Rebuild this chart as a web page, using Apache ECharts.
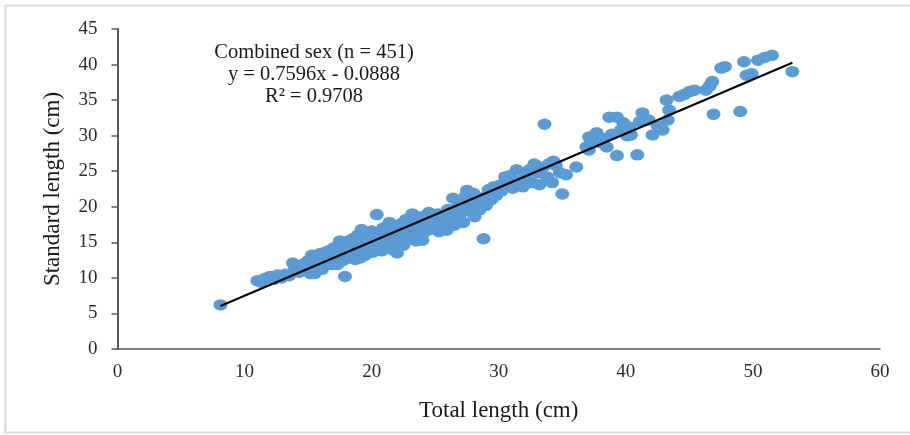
<!DOCTYPE html>
<html>
<head>
<meta charset="utf-8">
<script src="https://cdn.jsdelivr.net/npm/echarts@6/dist/echarts.min.js"></script>
<style>
html,body{margin:0;padding:0;background:#fff;}
#chart{width:910px;height:435px;}
</style>
</head>
<body>
<div id="chart"></div>
<script>
// Total length (cm) / Standard length (cm) pairs
const totalLength = [
 8.1,
 11.0,11.3,11.6,12.0,12.3,12.6,12.9,13.2,13.5,13.8,13.9,14.1,14.3,14.5,14.7,14.8,
 15.0,15.1,15.2,15.3,15.4,15.5,15.6,15.7,15.9,16.0,16.1,16.2,16.3,16.4,16.6,16.7,16.8,16.9,
 17.0,17.1,17.2,17.3,17.4,17.5,17.6,17.7,17.8,17.9,18.0,18.1,18.2,18.3,18.4,18.5,18.6,18.7,18.8,18.9,
 19.0,19.1,19.2,19.3,19.4,19.5,19.6,19.8,19.9,20.0,20.1,20.2,20.4,20.4,20.5,20.7,20.8,20.9,
 21.0,21.1,21.3,21.4,21.5,21.6,21.8,21.9,22.0,22.1,22.3,22.4,22.5,22.7,22.8,22.9,
 23.0,23.2,23.3,23.4,23.5,23.7,23.9,24.0,24.1,24.3,24.5,24.6,24.8,
 25.0,25.2,25.3,25.5,25.7,25.9,26.0,26.2,26.4,26.5,26.7,26.9,
 27.0,27.2,27.4,27.5,27.6,27.8,28.0,28.1,28.3,28.5,28.8,28.9,29.0,29.2,29.4,29.6,29.8,
 30.0,30.2,30.5,30.7,30.9,31.1,31.4,31.6,31.9,32.1,32.4,32.6,32.8,
 33.1,33.2,33.5,33.6,33.8,34.0,34.2,34.3,34.5,34.8,35.0,35.3,36.1,
 36.9,37.1,37.1,37.4,37.7,38.0,38.2,38.5,38.7,38.9,39.3,39.3,39.6,39.8,
 40.1,40.3,40.4,40.9,41.1,41.3,41.8,42.1,42.5,42.9,43.2,43.3,43.4,
 44.2,44.6,45.0,45.4,46.3,46.6,46.8,46.9,47.5,47.8,
 49.0,49.3,49.5,49.9,50.4,50.9,51.5,53.1,
 16.5,17.6,18.6,19.7,20.6,21.2,22.6,23.6,24.4,25.6,26.8,21.7,20.3
];
const standardLength = [
 6.2,
 9.6,9.4,9.9,10.2,9.8,10.4,10.0,10.5,10.3,12.1,11.0,11.6,10.8,11.4,12.0,11.0,
 12.4,11.3,10.6,13.2,12.0,10.6,12.8,11.6,13.4,12.2,11.2,12.9,13.6,11.8,12.5,13.9,13.0,11.9,
 14.2,12.7,13.4,11.9,14.6,15.2,13.1,12.4,14.0,10.2,14.8,13.5,12.8,15.3,14.2,13.2,15.6,12.6,14.6,16.0,
 13.8,12.8,16.8,15.0,14.2,13.2,16.2,15.4,14.4,16.6,13.6,15.8,18.9,14.8,16.2,15.2,13.8,17.0,
 16.0,14.4,15.6,17.8,16.6,14.0,15.2,17.2,13.5,16.4,17.6,15.8,14.6,18.2,16.8,15.4,
 17.4,19.0,16.2,18.0,15.2,17.0,18.6,15.3,16.4,17.8,19.2,16.8,18.2,
 17.4,19.0,16.5,18.6,17.8,16.7,19.6,18.4,21.2,17.4,19.8,18.8,
 20.6,17.8,21.5,22.3,19.4,20.4,21.9,18.6,20.8,19.6,15.5,21.4,20.2,22.4,21.0,22.8,21.6,
 23.0,22.2,24.2,23.2,24.4,22.6,25.2,23.6,22.8,24.4,25.2,23.4,26.0,
 24.8,23.1,25.6,31.6,24.2,26.1,23.4,26.4,25.8,24.8,21.8,24.5,25.6,
 28.4,29.8,28.0,29.4,30.4,29.0,29.6,28.4,32.6,30.2,32.6,27.2,30.8,31.8,
 30.0,31.2,30.1,27.3,32.0,33.2,32.2,30.1,31.4,30.8,35.0,32.2,33.6,
 35.5,35.8,36.2,36.4,36.4,37.0,37.6,33.0,39.5,39.7,
 33.4,40.4,38.5,38.7,40.6,41.0,41.3,39.0,
 13.1,13.9,13.9,15.6,15.6,15.0,16.0,17.2,18.0,18.0,18.9,16.8,14.0
];
// Linear trend line endpoints (y = 0.7596x - 0.0888), read at the ends of the data
const trendX = [8.1, 53.1];
const trendY = [6.06, 40.25];
// Axis ticks
const xTicks = [0, 10, 20, 30, 40, 50, 60];
const yTicks = [0, 5, 10, 15, 20, 25, 30, 35, 40, 45];
// Titles and annotation
const xTitle = 'Total length (cm)';
const yTitle = 'Standard length (cm)';
const annotationLines = ['Combined sex (n = 451)', 'y = 0.7596x - 0.0888', 'R\u00B2 = 0.9708'];

const points = totalLength.map((x, i) => [x, standardLength[i]]);
const trend = trendX.map((x, i) => [x, trendY[i]]);

const FONT = '"Liberation Serif", "Times New Roman", serif';
const chart = echarts.init(document.getElementById('chart'), null, {renderer: 'canvas'});

const graphics = [{
  type: 'rect',
  shape: {x: 5.5, y: 5.5, width: 910, height: 427},
  style: {fill: 'none', stroke: '#d9d9d9', lineWidth: 2},
  silent: true, z: 0
}];
annotationLines.forEach((t, i) => {
  graphics.push({
    type: 'text',
    x: 314, y: 53 + i * 22,
    style: {text: t, font: '20.5px ' + FONT, fill: '#1a1a1a', align: 'center', verticalAlign: 'middle'},
    z: 10
  });
});

chart.setOption({
  animation: false,
  backgroundColor: '#ffffff',
  grid: {left: 117.5, right: 30, top: 29, bottom: 86, containLabel: false},
  xAxis: {
    type: 'value',
    min: xTicks[0], max: xTicks[xTicks.length - 1], interval: 10,
    name: xTitle, nameLocation: 'middle', nameGap: 50,
    nameTextStyle: {fontFamily: FONT, fontSize: 23, color: '#1a1a1a'},
    axisLine: {show: true, onZero: false, lineStyle: {color: '#595959', width: 1.5}},
    axisTick: {show: false},
    splitLine: {show: false},
    axisLabel: {fontFamily: FONT, fontSize: 19, color: '#2b2b2b', margin: 14}
  },
  yAxis: {
    type: 'value',
    min: yTicks[0], max: yTicks[yTicks.length - 1], interval: 5,
    name: yTitle, nameLocation: 'middle', nameGap: 53, nameRotate: 90,
    nameTextStyle: {fontFamily: FONT, fontSize: 23, color: '#1a1a1a'},
    axisLine: {show: true, onZero: false, lineStyle: {color: '#595959', width: 2}},
    axisTick: {show: true, length: 6, lineStyle: {color: '#595959', width: 1.5}},
    splitLine: {show: false},
    axisLabel: {fontFamily: FONT, fontSize: 19, color: '#2b2b2b', margin: 20}
  },
  series: [{
    type: 'scatter',
    data: points,
    symbol: 'circle',
    symbolSize: [14, 11.5],
    itemStyle: {color: '#5B9BD5', opacity: 1},
    z: 2
  }, {
    type: 'line',
    data: trend,
    symbol: 'none',
    lineStyle: {color: '#000000', width: 2.2},
    z: 3
  }],
  graphic: graphics
});
</script>
</body>
</html>
